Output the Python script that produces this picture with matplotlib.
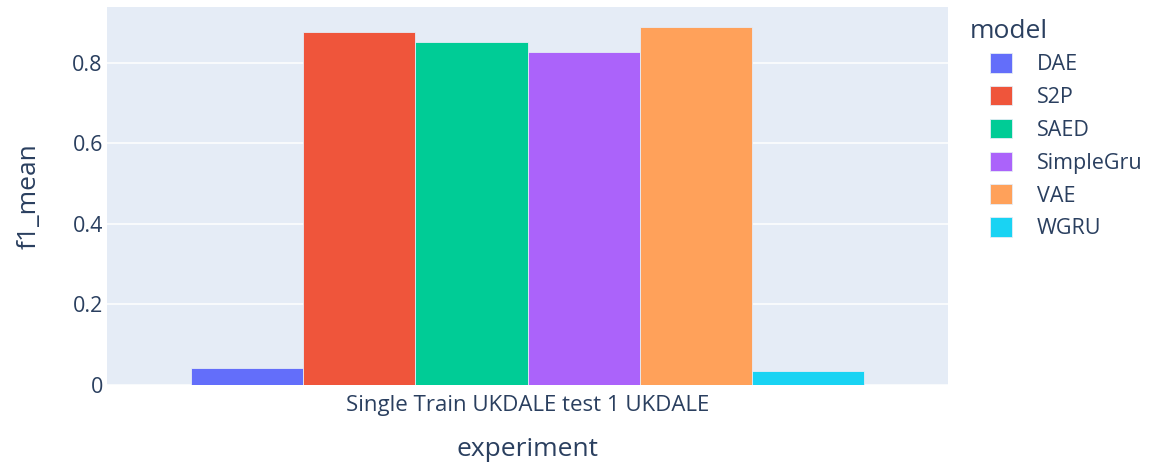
import numpy as np
import matplotlib.pyplot as plt

# data
experiment = ["Single Train UKDALE test 1 UKDALE"]
models = ["DAE", "S2P", "SAED", "SimpleGru", "VAE", "WGRU"]
f1_mean = [0.041, 0.877, 0.851, 0.826, 0.889, 0.035]
colors = ["#636EFA", "#EF553B", "#00CC96", "#AB63FA", "#FFA15A", "#19D3F3"]

plt.rcParams['font.family'] = ['Open Sans', 'DejaVu Sans']
txt = "#2a3f5f"

fig = plt.figure(figsize=(11.49, 4.65), dpi=100)
ax = fig.add_axes([107/1149, 80/465, 841/1149, 378/465])
ax.set_facecolor("#E5ECF6")

n = len(models)
w = 0.8 / n
x0 = np.arange(len(experiment))
for i, (m, v, c) in enumerate(zip(models, f1_mean, colors)):
    ax.bar(x0 - 0.4 + w * (i + 0.5), [v], width=w, color=c, label=m,
           edgecolor="#E5ECF6", linewidth=0.6, zorder=3)

ax.set_xlim(-0.5, 0.5)
ax.set_ylim(0, 0.939)
ax.set_yticks([0, 0.2, 0.4, 0.6, 0.8])
ax.set_yticklabels(["0", "0.2", "0.4", "0.6", "0.8"])
ax.set_xticks(x0)
ax.set_xticklabels(experiment)
ax.grid(axis="y", color="white", linewidth=1.1, zorder=0)
ax.set_axisbelow(True)
for s in ax.spines.values():
    s.set_visible(False)
ax.tick_params(length=0, labelsize=15.5, labelcolor=txt)
ax.tick_params(axis="x", labelsize=16)
ax.tick_params(axis="y", pad=3)
ax.tick_params(axis="x", pad=7)

ax.set_xlabel("experiment", fontsize=19, color=txt, labelpad=15)
ax.set_ylabel("f1_mean", fontsize=19, color=txt, labelpad=22)

fig.text(970/1149, 1 - 32/465, "model", fontsize=19, color=txt,
         ha="left", va="center")
leg = ax.legend(loc="upper left", bbox_to_anchor=(1.04, 0.90),
                frameon=False, fontsize=15.5,
                handlelength=1.0, handleheight=1.0, labelspacing=0.5,
                handletextpad=1.15, borderaxespad=0.0)
for t in leg.get_texts():
    t.set_color(txt)

fig.savefig("out.png", dpi=100)
